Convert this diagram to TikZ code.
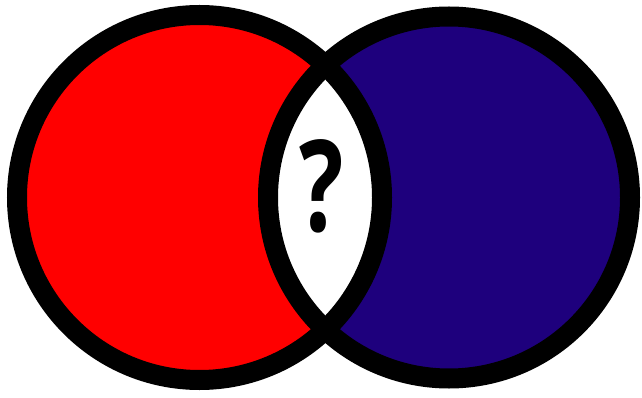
\documentclass[tikz,border=0pt]{standalone}
\usepackage{fontspec}
\setmainfont{Open Sans}
\definecolor{vred}{RGB}{255,0,0}
\definecolor{vblue}{RGB}{30,0,125}
\begin{document}
\begin{tikzpicture}[x=1pt,y=-1pt,
  ring/.style={draw=black,line width=20pt}]
\useasboundingbox (0,0) rectangle (642,398);
\fill[white] (0,0) rectangle (642,398);
\coordinate (cl) at (199.5,197.5);
\coordinate (cr) at (449,197.5);
\fill[vred] (cl) circle[radius=182.5pt];
\fill[vblue] (cr) circle[radius=181pt];
\begin{scope}
  \clip (cl) circle[radius=182.5pt];
  \fill[white] (cr) circle[radius=181pt];
\end{scope}
\draw[ring] (cl) circle[radius=182.5pt];
\draw[ring] (cr) circle[radius=181pt];
\node[font=\fontsize{127}{127}\selectfont\bfseries, inner sep=0pt, xscale=0.73] (q) at (321.5,186) {?};
\end{tikzpicture}
\end{document}
